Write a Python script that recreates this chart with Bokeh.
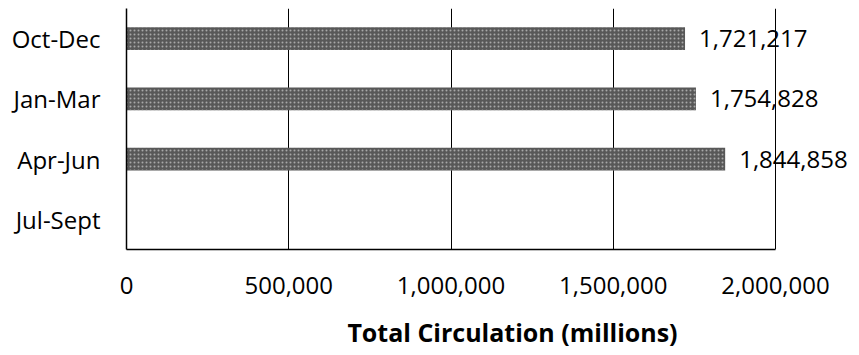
from bokeh.plotting import figure
from bokeh.models import ColumnDataSource, FixedTicker, NumeralTickFormatter, Range1d
from bokeh.core.properties import value
from bokeh.embed import file_html
from bokeh.resources import INLINE

categories = ["Jul-Sept", "Apr-Jun", "Jan-Mar", "Oct-Dec"]
bar_categories = ["Apr-Jun", "Jan-Mar", "Oct-Dec"]
circulation = [1844858, 1754828, 1721217]
labels = ["1,844,858", "1,754,828", "1,721,217"]
x_ticks = [0, 500000, 1000000, 1500000, 2000000]
x_title = "Total Circulation (millions)"

FONT = "Open Sans"

# frame spans to the right edge so value labels are not clipped;
# axis itself stops at 2,000,000
AXIS_PX = 649.0      # pixels from 0 to 2,000,000
FRAME_PX = 733.0     # frame width in pixels
x_end = x_ticks[-1] * FRAME_PX / AXIS_PX

src = ColumnDataSource(dict(cat=bar_categories, val=circulation, lab=labels))

p = figure(width=859, height=355, y_range=categories, x_range=Range1d(0, x_end),
           output_backend="svg", toolbar_location=None,
           min_border_left=126, min_border_right=0, min_border_top=8, min_border_bottom=106)
p.outline_line_color = None
p.background_fill_color = "white"

p.hbar(y="cat", right="val", left=0, height=0.38, source=src,
       fill_color="#585858", line_color=None,
       hatch_pattern="dot", hatch_color="#a8a8a8", hatch_scale=4, hatch_weight=1)

p.text(x="val", y="cat", text="lab", source=src, x_offset=14,
       text_align="left", text_baseline="middle",
       text_font=value(FONT), text_font_size="24px", text_color="black")

p.xaxis.ticker = FixedTicker(ticks=x_ticks)
p.xaxis.bounds = (x_ticks[0], x_ticks[-1])
p.xaxis.formatter = NumeralTickFormatter(format="0,0")
p.xaxis.major_label_standoff = 21
# leading no-break spaces nudge the centred title to the right, as in the reference
p.xaxis.axis_label = "\u00a0" * 6 + x_title
p.xaxis.axis_label_text_font = FONT
p.xaxis.axis_label_text_font_style = "bold"
p.xaxis.axis_label_text_font_size = "25px"
p.xaxis.axis_label_text_color = "black"
p.xaxis.axis_label_standoff = 18

for ax in (p.xaxis, p.yaxis):
    ax.major_label_text_font = FONT
    ax.major_label_text_font_size = "24px"
    ax.major_label_text_color = "black"
    ax.axis_line_color = "black"
    ax.axis_line_width = 1.5
    ax.major_tick_line_color = None
    ax.minor_tick_line_color = None

p.yaxis.major_label_standoff = 20

p.xgrid.ticker = FixedTicker(ticks=x_ticks)
p.xgrid.grid_line_color = "black"
p.xgrid.grid_line_width = 1
p.ygrid.grid_line_color = None

open("out.html", "w").write(file_html(p, INLINE))
